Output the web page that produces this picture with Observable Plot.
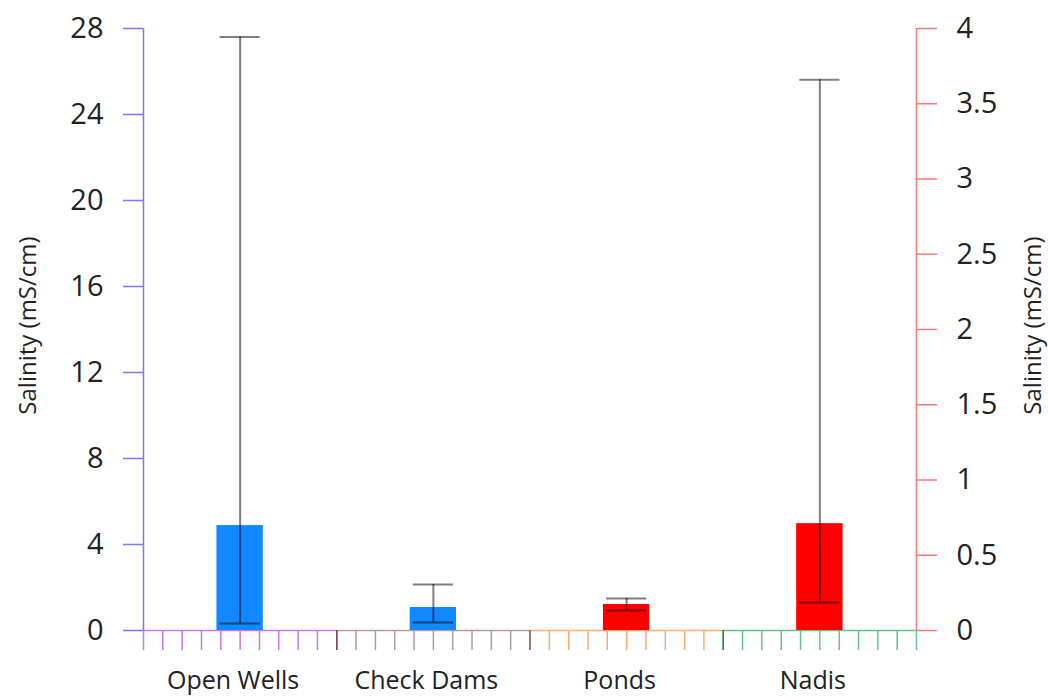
<!DOCTYPE html>
<html>
<head>
<meta charset="utf-8">
<script src="https://cdn.jsdelivr.net/npm/d3@7"></script>
<script src="https://cdn.jsdelivr.net/npm/@observablehq/plot@0.6"></script>
<style>
  html, body { margin: 0; padding: 0; background: #fff; }
  #chart { width: 1048px; height: 700px; }
</style>
</head>
<body>
<div id="chart"></div>
<script>
// ---- data ----
const categories = ["Open Wells", "Check Dams", "Ponds", "Nadis"];
const axisSide   = ["left", "left", "right", "right"];   // which y-axis each series uses
const means      = [4.88, 1.07, 0.173, 0.71];
const errLow     = [0.33, 0.37, 0.133, 0.186];
const errHigh    = [27.6, 2.14, 0.213, 3.66];
const barColors  = ["#1188ff", "#1188ff", "#ff0000", "#ff0000"];
const groupColors = ["#cc77ee", "#b89a9a", "#ffaa70", "#66c488"];
const boundaryColors = ["#884466", "#8a6a5a", "#228844"];
const leftTicks  = [0, 4, 8, 12, 16, 20, 24, 28];
const rightTicks = [0, 0.5, 1, 1.5, 2, 2.5, 3, 3.5, 4];
const yTitle = "Salinity (mS/cm)";

const leftMax = 28, rightMax = 4;
const k = leftMax / rightMax;  // right-axis values -> left-axis units

const rows = categories.map((c, i) => {
  const f = axisSide[i] === "right" ? k : 1;
  return {cat: c, i, mean: means[i] * f, lo: errLow[i] * f, hi: errHigh[i] * f, color: barColors[i]};
});

const barHalf = 0.12, capHalf = 0.104;
const font = "Open Sans";

const marks = [];

// baseline segments colored per category
marks.push(Plot.ruleY(rows, {y: () => 0, x1: d => d.i, x2: d => d.i + 1, stroke: (d) => groupColors[d.i], strokeWidth: 1.5}));

// bottom minor ticks per group
categories.forEach((c, g) => {
  marks.push(Plot.axisX({
    anchor: "bottom",
    ticks: d3.range(0, 11).map(j => g + j / 10),
    tickSize: 20,
    tickFormat: () => "",
    stroke: groupColors[g],
    strokeWidth: 1.5
  }));
});
marks.push(Plot.axisX({
  anchor: "bottom",
  ticks: [1, 2, 3],
  tickSize: 20,
  tickFormat: () => "",
  stroke: (d) => boundaryColors[d - 1],
  strokeWidth: 1.5
}));

// bars
marks.push(Plot.rectY(rows, {x1: d => d.i + 0.5 - barHalf, x2: d => d.i + 0.5 + barHalf, y1: 0, y2: "mean", fill: "color"}));

// error bars
marks.push(Plot.ruleX(rows, {x: d => d.i + 0.5, y1: "lo", y2: "hi", stroke: "#000", strokeOpacity: 0.5, strokeWidth: 2}));
marks.push(Plot.ruleY(rows, {y: "hi", x1: d => d.i + 0.5 - capHalf, x2: d => d.i + 0.5 + capHalf, stroke: "#000", strokeOpacity: 0.5, strokeWidth: 2}));
marks.push(Plot.ruleY(rows, {y: "lo", x1: d => d.i + 0.5 - capHalf, x2: d => d.i + 0.5 + capHalf, stroke: "#000", strokeOpacity: 0.5, strokeWidth: 2}));

// left axis
marks.push(Plot.ruleX([0], {stroke: "#7777ff", strokeWidth: 1.5}));
marks.push(Plot.axisY({anchor: "left", ticks: leftTicks, tickSize: 20, tickPadding: 20, stroke: "#7777ff", strokeWidth: 1.5, fontSize: 29, label: null, fill: "#222"}));

// right axis
marks.push(Plot.ruleX([categories.length], {stroke: "#ff7777", strokeWidth: 1.5}));
marks.push(Plot.axisY({anchor: "right", ticks: rightTicks.map(v => v * k), tickFormat: d => String(Math.round(d / k * 10) / 10), tickSize: 20, tickPadding: 20, stroke: "#ff7777", strokeWidth: 1.5, fontSize: 29, label: null, fill: "#222"}));

// category labels
marks.push(Plot.text(rows, {x: d => d.i + 0.5, y: () => 0, text: "cat", dy: 50, dx: -7, fontSize: 25, fill: "#222"}));

// axis titles
marks.push(Plot.text([yTitle], {frameAnchor: "left", textAnchor: "middle", dx: -115, dy: -4, rotate: -90, fontSize: 24, fill: "#222"}));
marks.push(Plot.text([yTitle], {frameAnchor: "right", textAnchor: "middle", dx: 117, dy: -4, rotate: -90, fontSize: 24, fill: "#222"}));

const chart = Plot.plot({
  width: 1048,
  height: 700,
  marginLeft: 143,
  marginRight: 132,
  marginTop: 28,
  marginBottom: 70,
  x: {type: "linear", domain: [0, categories.length], axis: null},
  y: {domain: [0, leftMax], axis: null},
  style: {fontFamily: font, color: "#222", background: "#fff"},
  marks
});
document.getElementById("chart").appendChild(chart);
</script>
</body>
</html>
